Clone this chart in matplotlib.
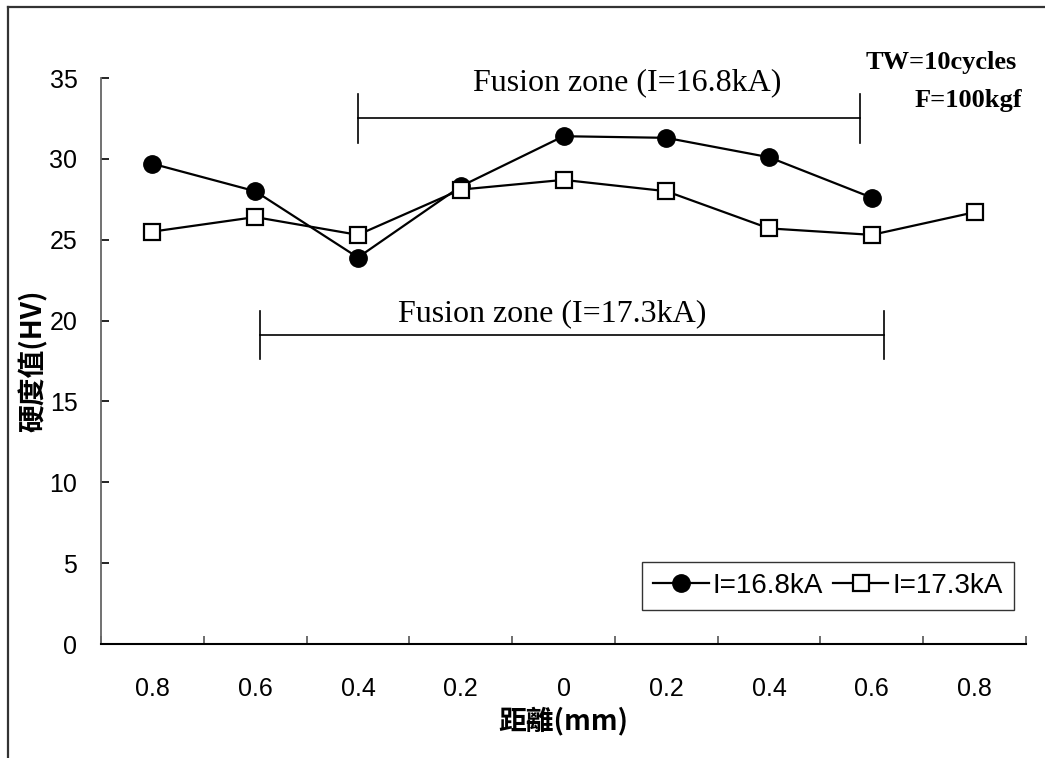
import matplotlib
matplotlib.use("Agg")
import matplotlib.pyplot as plt
from matplotlib import font_manager
from matplotlib.lines import Line2D

# Data
positions = ["0.8", "0.6", "0.4", "0.2", "0", "0.2", "0.4", "0.6", "0.8"]
hv_168 = [29.7, 28.0, 23.9, 28.3, 31.4, 31.3, 30.1, 27.6]          # I=16.8kA
hv_173 = [25.5, 26.4, 25.3, 28.1, 28.7, 28.0, 25.7, 25.3, 26.7]    # I=17.3kA
series_labels = ["I=16.8kA", "I=17.3kA"]

# Fusion-zone spans (in category index units) and their bracket heights
zone_168 = (2.0, 6.88, 32.5)
zone_173 = (1.05, 7.12, 19.1)

installed = {f.name for f in font_manager.fontManager.ttflist}
sans = "Liberation Sans Narrow" if "Liberation Sans Narrow" in installed else "Liberation Sans"
serif = "Liberation Serif"
cjk = "Noto Sans CJK TC"

plt.rcParams["font.family"] = [sans, "DejaVu Sans"]

fig = plt.figure(figsize=(10.45, 7.58), dpi=100)
ax = fig.add_axes([101 / 1045, 1 - 644 / 758, 925 / 1045, (644 - 78) / 758])

x = list(range(len(positions)))
ax.plot(x[:len(hv_168)], hv_168, color="black", lw=1.6, marker="o",
        markersize=12.5, markerfacecolor="black", markeredgecolor="black",
        label=series_labels[0], zorder=3)
ax.plot(x, hv_173, color="black", lw=1.6, marker="s",
        markersize=11.5, markerfacecolor="white", markeredgecolor="black",
        markeredgewidth=1.6, label=series_labels[1], zorder=4)

ax.set_xlim(-0.5, len(positions) - 0.5)
ax.set_ylim(0, 35)
ax.set_yticks(range(0, 36, 5))
ax.set_xticks(x)
ax.set_xticklabels(positions)
ax.set_xticks([i - 0.5 for i in range(len(positions) + 1)], minor=True)

ax.tick_params(axis="x", which="major", length=0, pad=24, labelsize=18)
ax.tick_params(axis="x", which="minor", direction="in", length=6, width=1.2,
               color="#555555")
ax.tick_params(axis="y", direction="in", length=6, width=1.2, pad=17,
               labelsize=18)

for s in ("top", "right"):
    ax.spines[s].set_visible(False)
ax.spines["left"].set_color("#666666")
ax.spines["left"].set_linewidth(1.3)
ax.spines["bottom"].set_color("black")
ax.spines["bottom"].set_linewidth(1.5)

ax.set_ylabel("硬度值(HV)", family=[cjk, "DejaVu Sans"], fontsize=20,
              fontweight="bold")
ax.yaxis.set_label_coords(-0.073, 0.5)
ax.set_xlabel("距離(mm)", family=[cjk, "DejaVu Sans"], fontsize=20,
              fontweight="bold")
ax.xaxis.set_label_coords(0.5, -0.136)
ax.xaxis.label.set_va("center")
ax.yaxis.label.set_va("center")


def bracket(x0, x1, y, half=1.5):
    ax.plot([x0, x1], [y, y], color="black", lw=1.2, zorder=2)
    ax.plot([x0, x0], [y - half, y + half], color="black", lw=1.2, zorder=2)
    ax.plot([x1, x1], [y - half, y + half], color="black", lw=1.2, zorder=2)


bracket(zone_168[0], zone_168[1], zone_168[2])
bracket(zone_173[0], zone_173[1], zone_173[2])

ax.text(4.62, 34.7, "Fusion zone (I=16.8kA)", family=serif, fontsize=23,
        ha="center", va="center")
ax.text(3.89, 20.4, "Fusion zone (I=17.3kA)", family=serif, fontsize=23,
        ha="center", va="center")

fig.text(1017 / 1045, 1 - 63 / 758, "TW=10cycles", family=serif,
         fontweight="bold", fontsize=19, ha="right", va="center")
fig.text(1022 / 1045, 1 - 100 / 758, "F=100kgf", family=serif,
         fontweight="bold", fontsize=19, ha="right", va="center")

leg = ax.legend(loc="lower right", bbox_to_anchor=(0.987, 0.06), ncol=2,
                fontsize=20, frameon=True, fancybox=False, borderaxespad=0,
                handlelength=2.0, handletextpad=0.15, columnspacing=0.35,
                borderpad=0.4)
leg.get_frame().set_edgecolor("black")
leg.get_frame().set_linewidth(1.0)

# Outer frame lines along left and top
fig.add_artist(Line2D([8 / 1045, 8 / 1045], [0, 1 - 7 / 758],
                      transform=fig.transFigure, color="#333333", lw=1.6))
fig.add_artist(Line2D([8 / 1045, 1], [1 - 7 / 758, 1 - 7 / 758],
                      transform=fig.transFigure, color="#333333", lw=1.6))

fig.savefig("out.png", dpi=100, facecolor="white")
